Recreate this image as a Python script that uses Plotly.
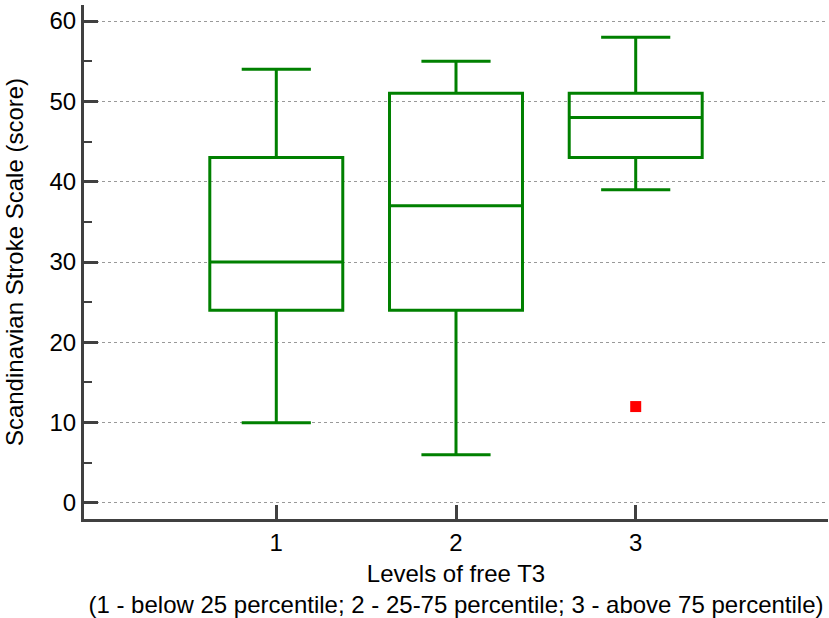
import plotly.graph_objects as go

categories = [1, 2, 3]
q1 = [24, 24, 43]
median = [30, 37, 48]
q3 = [43, 51, 51]
lower_whisker = [10, 6, 39]
upper_whisker = [54, 55, 58]
outlier_x = [3]
outlier_y = [12]
y_ticks = [0, 10, 20, 30, 40, 50, 60]
x_ticks = [1, 2, 3]

fig = go.Figure()
fig.add_trace(go.Box(
    x=categories, q1=q1, median=median, q3=q3,
    lowerfence=lower_whisker, upperfence=upper_whisker,
    boxpoints=False, width=0.74, whiskerwidth=0.52,
    line=dict(color="#008000", width=3), fillcolor="rgba(0,0,0,0)",
    showlegend=False, hoverinfo="skip"))
fig.add_trace(go.Scatter(
    x=outlier_x, y=outlier_y, mode="markers",
    marker=dict(symbol="square", color="#ff0000", size=11, line=dict(width=0)),
    showlegend=False))

font = "Liberation Sans, Arial, sans-serif"
fig.update_layout(
    width=829, height=618,
    margin=dict(l=84, r=1, t=5, b=99),
    plot_bgcolor="white", paper_bgcolor="white",
    font=dict(family=font, size=24, color="#000000"),
)
fig.update_xaxes(
    range=[-0.07, 4.07], tickvals=x_ticks, ticktext=[str(v) for v in x_ticks],
    showline=True, linecolor="#404040", linewidth=3,
    ticks="inside", ticklen=14, tickwidth=3, tickcolor="#404040",
    showgrid=False, zeroline=False, automargin=False,
    tickfont=dict(size=24),
    title=dict(text="Levels of free T3<br>(1 - below 25 percentile; 2 - 25-75 percentile; 3 - above 75 percentile)",
               font=dict(size=24), standoff=14),
)
fig.update_yaxes(
    range=[-2, 62], tickvals=y_ticks,
    showline=True, linecolor="#404040", linewidth=3,
    ticks="inside", ticklen=14, tickwidth=3, tickcolor="#404040",
    minor=dict(tickvals=[5, 15, 25, 35, 45, 55], ticks="inside", ticklen=8, tickwidth=1.5, tickcolor="#404040", showgrid=False),
    showgrid=True, gridcolor="#999999", gridwidth=1, griddash="dot",
    zeroline=False, automargin=False, tickfont=dict(size=24),
    title=dict(text="Scandinavian Stroke Scale (score)", font=dict(size=24), standoff=20),
)
fig.write_html("out.html", config={"displayModeBar": False},
               post_script="document.body.style.margin='0';document.body.style.overflow='hidden';")
